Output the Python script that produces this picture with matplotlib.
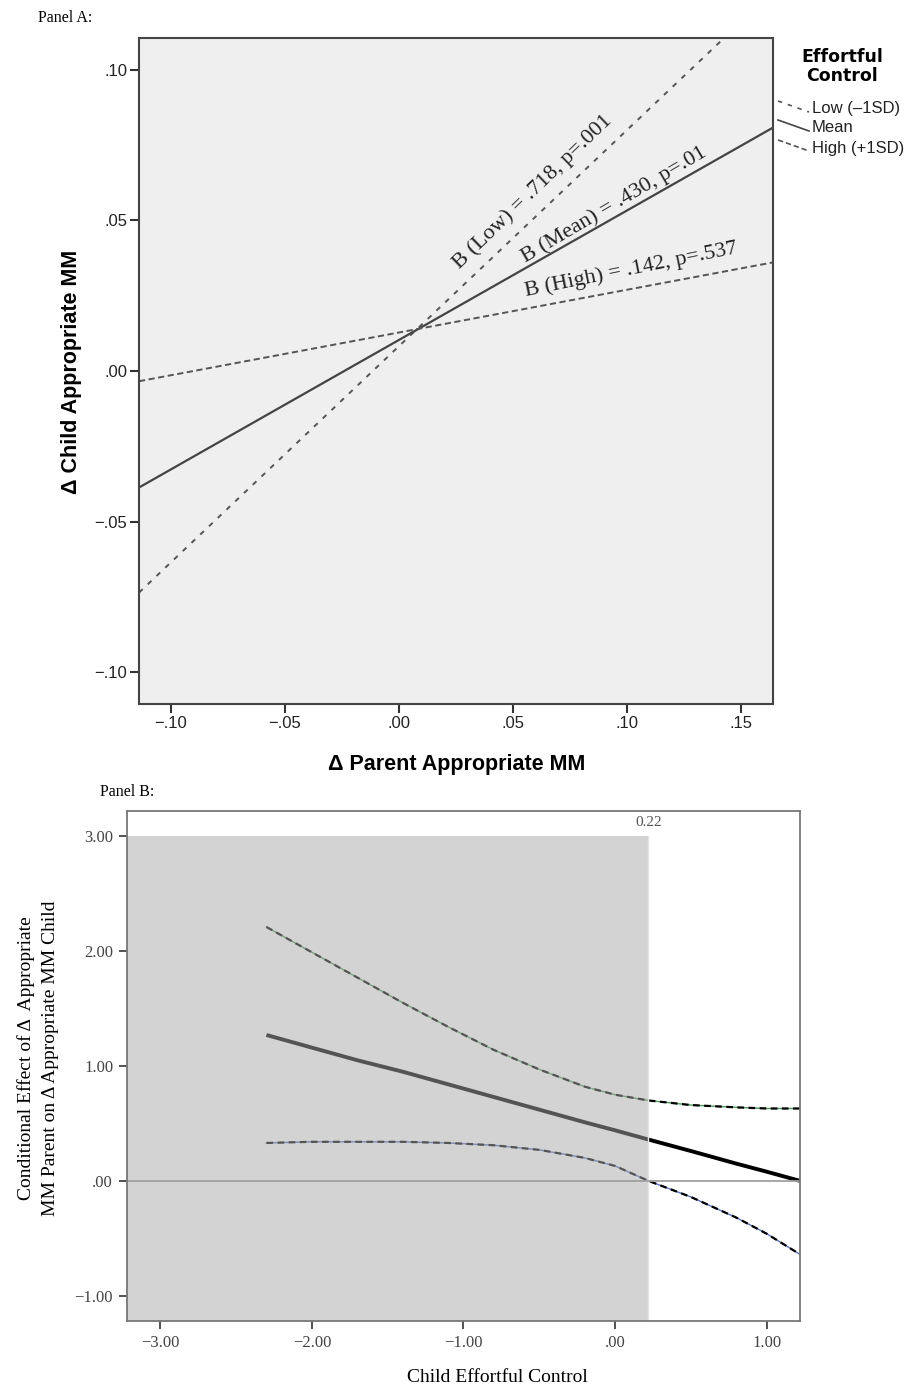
import numpy as np
import matplotlib
matplotlib.use("Agg")
import matplotlib.pyplot as plt
from matplotlib.lines import Line2D
from matplotlib.patches import Rectangle

W, H = 906, 1389

# ---- Panel A data: simple slopes at low / mean / high effortful control
parent_range = [-0.114, 0.164]
slope_names = ["Low", "Mean", "High"]
slopes = [0.718, 0.430, 0.142]
y_at_left = [-0.0736, -0.0387, -0.0034]     # child value at left edge of x range
slope_labels = ["B (Low) = .718, p=.001", "B (Mean) = .430, p=.01", "B (High) = .142, p=.537"]
legend_labels = ["Low (\u20131SD)", "Mean", "High (+1SD)"]
a_xticks = [-0.10, -0.05, 0.00, 0.05, 0.10, 0.15]
a_xticklabels = ["\u2212.10", "\u2212.05", ".00", ".05", ".10", ".15"]
a_yticks = [-0.10, -0.05, 0.00, 0.05, 0.10]
a_yticklabels = ["\u2212.10", "\u2212.05", ".00", ".05", ".10"]

# ---- Panel B data: conditional effect with 95% CI (Johnson-Neyman)
ec = [-2.30, -2.00, -1.70, -1.40, -1.10, -0.80, -0.50, -0.20, 0.00, 0.22, 0.50, 0.80, 1.00, 1.22]
effect = [1.27, 1.16, 1.05, 0.95, 0.84, 0.73, 0.62, 0.51, 0.44, 0.36, 0.26, 0.15, 0.08, 0.00]
ci_upper = [2.21, 1.99, 1.77, 1.55, 1.34, 1.14, 0.97, 0.82, 0.75, 0.70, 0.66, 0.64, 0.63, 0.63]
ci_lower = [0.33, 0.34, 0.34, 0.34, 0.33, 0.31, 0.27, 0.20, 0.13, 0.00, -0.14, -0.32, -0.46, -0.64]
jn_point = 0.22
shade_top = 3.00
b_xticks = [-3, -2, -1, 0, 1]
b_xticklabels = ["\u22123.00", "\u22122.00", "\u22121.00", ".00", "1.00"]
b_yticks = [-1, 0, 1, 2, 3]
b_yticklabels = ["\u22121.00", ".00", "1.00", "2.00", "3.00"]

SERIF = "Liberation Serif"
SANS = "Liberation Sans"


def fx(px):
    return px / W


def fy(py):
    return 1 - py / H


fig = plt.figure(figsize=(W / 100, H / 100), dpi=100)
fig.patch.set_facecolor("white")

# ================= Panel A =================
axA = fig.add_axes([fx(139), fy(704), fx(773) - fx(139), fy(38) - fy(704)])
axA.set_facecolor("#efefef")
styles = [dict(ls=(0, (2.6, 3.6)), lw=1.4, color="#555555"),
          dict(ls="-", lw=1.6, color="#444444"),
          dict(ls=(0, (3.2, 1.8)), lw=1.4, color="#555555")]
xs = np.array(parent_range)
for b, y0, st in zip(slopes, y_at_left, styles):
    axA.plot(xs, y0 + b * (xs - xs[0]), **st)

axA.set_xlim(parent_range)
axA.set_ylim(-0.1106, 0.1106)
axA.set_xticks(a_xticks)
axA.set_xticklabels(a_xticklabels, fontsize=12, family=SANS, color="#222222")
axA.set_yticks(a_yticks)
axA.set_yticklabels(a_yticklabels, fontsize=12, family=SANS, color="#222222")
axA.tick_params(direction="out", length=6.5, width=1.5, color="#333333", pad=2)
for sp in axA.spines.values():
    sp.set_color("#444444")
    sp.set_linewidth(1.5)

# slope annotations
ann_pos = [(0.0587, 0.0595, 44), (0.0945, 0.0552, 30.5), (0.1020, 0.0337, 11.5)]
for (tx, ty, rot), lab in zip(ann_pos, slope_labels):
    axA.text(tx, ty, lab, rotation=rot, rotation_mode="anchor", ha="center", va="center",
             fontsize=16, family=SERIF, color="#222222")

fig.text(fx(457), fy(764), "\u0394 Parent Appropriate MM", ha="center", va="center",
         fontsize=15.5, family=SANS, fontweight="bold")
fig.text(fx(71), fy(372), "\u0394 Child Appropriate MM", rotation=90, ha="center", va="center",
         fontsize=15.5, family=SANS, fontweight="bold")
fig.text(fx(38), fy(18), "Panel A:", ha="left", va="center", fontsize=11.5, family=SERIF)

# legend drawn beside the panel
fig.text(fx(842), fy(57), "Effortful", ha="center", va="center", fontsize=12.5,
         family="DejaVu Sans", fontweight="bold")
fig.text(fx(842), fy(76), "Control", ha="center", va="center", fontsize=12.5,
         family="DejaVu Sans", fontweight="bold")
leg_y = [109, 128, 148]
for lab, ly, st in zip(legend_labels, leg_y, styles):
    fig.add_artist(Line2D([fx(778), fx(809)], [fy(ly - 8), fy(ly + 3)],
                          transform=fig.transFigure, color=st["color"], lw=1.2, ls=st["ls"]))
    fig.text(fx(812), fy(ly), lab, ha="left", va="center", fontsize=12, family=SANS,
             color="#222222")

# ================= Panel B =================
axB = fig.add_axes([fx(127), fy(1321), fx(800) - fx(127), fy(811) - fy(1321)])
axB.set_facecolor("white")
xmin, xmax = -3.22, 1.22
ymin, ymax = -1.22, 3.22
axB.set_xlim(xmin, xmax)
axB.set_ylim(ymin, ymax)

axB.plot(ec, ci_upper, color="#4f9a5f", lw=1.0, zorder=2)
axB.plot(ec, ci_upper, color="black", lw=1.6, ls=(0, (3, 2)), zorder=3)
axB.plot(ec, ci_lower, color="#5a6fc0", lw=1.0, zorder=2)
axB.plot(ec, ci_lower, color="black", lw=1.6, ls=(0, (3, 2)), zorder=3)
axB.plot(ec, effect, color="black", lw=2.8, zorder=3, solid_capstyle="butt")

# region of significance shaded over the lines
axB.add_patch(Rectangle((xmin, ymin), jn_point - xmin, shade_top - ymin,
                        facecolor="#a8a8a8", alpha=0.5, edgecolor="none", zorder=4))
axB.plot([jn_point, jn_point], [ymin, shade_top], color="#e4e4e4", lw=1.0, zorder=4)
axB.axhline(0, color="#a0a0a0", lw=1.3, zorder=5)
axB.text(jn_point, (shade_top + ymax) / 2 + 0.01, "0.22", ha="center", va="center",
         fontsize=11, family=SERIF, color="#555555")

axB.set_xticks(b_xticks)
axB.set_xticklabels(b_xticklabels, fontsize=12, family=SERIF, color="#444444")
axB.set_yticks(b_yticks)
axB.set_yticklabels(b_yticklabels, fontsize=12, family=SERIF, color="#444444")
axB.tick_params(direction="out", length=6, width=1.3, color="#444444", pad=4)
for sp in axB.spines.values():
    sp.set_color("#777777")
    sp.set_linewidth(1.3)
    sp.set_zorder(6)

fig.text(fx(497), fy(1377), "Child Effortful Control", ha="center", va="center",
         fontsize=14, family=SERIF)
fig.text(fx(38), fy(1058), "Conditional Effect of \u0394  Appropriate\nMM Parent on \u0394 Appropriate MM Child",
         rotation=90, ha="center", va="center", fontsize=14, family=SERIF, linespacing=1.55)
fig.text(fx(100), fy(792), "Panel B:", ha="left", va="center", fontsize=11.5, family=SERIF)

fig.savefig("out.png", dpi=100)
